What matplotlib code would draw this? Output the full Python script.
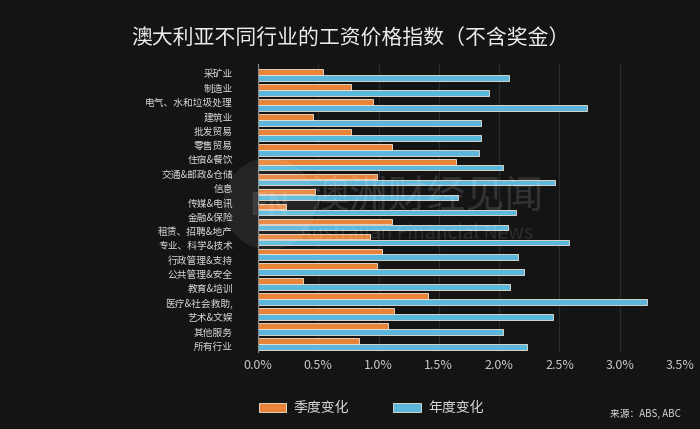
import numpy as np
import matplotlib
matplotlib.use("Agg")
import matplotlib.pyplot as plt
from matplotlib.patches import Patch, Ellipse

plt.rcParams['font.family'] = ['Noto Sans CJK SC', 'DejaVu Sans']

# Data
TITLE = "澳大利亚不同行业的工资价格指数（不含奖金）"
row_labels = [
    "采矿业", "制造业", "电气、水和垃圾处理", "建筑业", "批发贸易", "零售贸易",
    "住宿&餐饮", "交通&邮政&仓储", "信息", "传媒&电讯", "金融&保险",
    "租赁、招聘&地产", "专业、科学&技术", "行政管理&支持", "公共管理&安全",
    "教育&培训", "医疗&社会救助,", "艺术&文娱", "其他服务", "所有行业",
]
# 19 bar pairs in the picture (labels are spaced slightly tighter than bars)
quarterly = [0.54, 0.77, 0.95, 0.46, 0.77, 1.11, 1.64, 0.99, 0.47, 0.23,
             1.11, 0.93, 1.03, 0.99, 0.37, 1.41, 1.13, 1.08, 0.84]
annual = [2.08, 1.92, 2.73, 1.85, 1.85, 1.83, 2.03, 2.46, 1.66, 2.14,
          2.07, 2.58, 2.16, 2.21, 2.09, 3.23, 2.45, 2.03, 2.23]
x_ticks = [0.0, 0.5, 1.0, 1.5, 2.0, 2.5, 3.0, 3.5]
legend_labels = ["季度变化", "年度变化"]
SOURCE = "来源：ABS, ABC"

BG = "#141414"
ORANGE = "#E8843A"
BLUE = "#5BB8DC"
EDGE = "#F2E6D6"
TEXT = "#D8D8D8"

fig = plt.figure(figsize=(7.0, 4.29), dpi=100, facecolor=BG)
ax = fig.add_axes([258 / 700, 1 - 352 / 429, 422 / 700, 288 / 429])
ax.set_facecolor(BG)

pos = np.arange(len(quarterly))
h = 0.37
ax.barh(pos - 0.2, quarterly, height=h, color=ORANGE, edgecolor=EDGE,
        linewidth=0.6, zorder=3, label=legend_labels[0])
ax.barh(pos + 0.2, annual, height=h, color=BLUE, edgecolor=EDGE,
        linewidth=0.6, zorder=3, label=legend_labels[1])

ax.set_ylim(18.55, -0.75)
ax.set_xlim(0, 3.5)

label_pos = np.linspace(-0.13, 18.13, len(row_labels))
ax.set_yticks(label_pos)
ax.set_yticklabels(row_labels, fontsize=7, color=TEXT)
ax.tick_params(axis="y", length=0, pad=18)

ax.set_xticks(x_ticks)
ax.set_xticklabels([f"{v:.1f}%" for v in x_ticks], fontsize=9, color="#C8C8C8")
ax.tick_params(axis="x", length=0, pad=5)

ax.grid(axis="x", color="#2A2A2A", linewidth=0.8, zorder=1)
for side in ["top", "right", "bottom"]:
    ax.spines[side].set_visible(False)
ax.spines["left"].set_color("#8A8A8A")
ax.spines["left"].set_linewidth(0.8)
ax.spines["left"].set_zorder(4)

# faint watermark laid over the plot
fig.patches.append(Ellipse((0.385, 0.525), 92 / 700, 92 / 429, transform=fig.transFigure,
                           facecolor="white", alpha=0.07, edgecolor="none", zorder=5))
fig.text(0.385, 0.52, "FN", fontsize=22, color="white", alpha=0.12,
         ha="center", va="center", fontweight="bold", zorder=6)
fig.text(0.61, 0.54, "澳洲财经见闻", fontsize=28, color="white",
         ha="center", va="center", alpha=0.13, zorder=6)
fig.text(0.595, 0.455, "Australian Financial News", fontsize=14,
         color="white", ha="center", va="center", alpha=0.11, zorder=6)

fig.suptitle(TITLE, x=0.5, y=0.935, fontsize=15, color="#EDEDED")

handles = [Patch(facecolor=ORANGE, edgecolor=EDGE, linewidth=0.6),
           Patch(facecolor=BLUE, edgecolor=EDGE, linewidth=0.6)]
fig.legend(handles, legend_labels, loc="center", bbox_to_anchor=(0.53, 0.048),
           ncol=2, frameon=False, fontsize=10, labelcolor=TEXT,
           handlelength=2.0, handleheight=0.6, columnspacing=3.2, handletextpad=0.5)

fig.text(0.972, 0.035, SOURCE, fontsize=7, color=TEXT, ha="right", va="center")

fig.savefig("out.png", dpi=100, facecolor=BG)
